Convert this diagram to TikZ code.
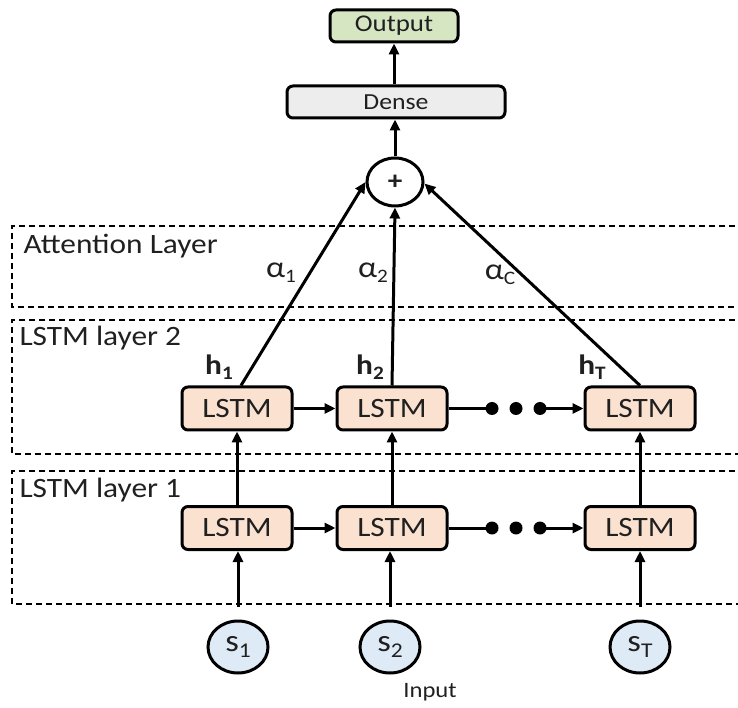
\documentclass[tikz,border=0pt]{standalone}
\usepackage{fontspec}
\setmainfont{Carlito}[FakeStretch=1.12]
\usetikzlibrary{arrows.meta,shapes.geometric}
\definecolor{lstmfill}{HTML}{FBE2D0}
\definecolor{infill}{HTML}{DEEAF6}
\definecolor{outfill}{HTML}{D6E6C3}
\definecolor{densefill}{HTML}{EDEDED}
\definecolor{txt}{HTML}{202020}
\newcommand{\fs}[1]{\fontsize{#1}{#1}\selectfont}
\newcommand{\lowsub}[3]{\raisebox{-#1}{\fs{#2}#3}}
\begin{document}
\begin{tikzpicture}[x=1pt,y=1pt,
  every node/.style={text=txt},
  lstmbox/.style={draw=black, line width=3pt, rounded corners=6pt, minimum width=110pt, minimum height=43pt, fill=lstmfill, font=\fs{28}, inner sep=0pt},
  topbox/.style={draw=black, line width=3pt, rounded corners=6pt, minimum height=32pt, inner sep=0pt},
  inp/.style={draw=black, ellipse, line width=3pt, minimum width=60pt, minimum height=52pt, fill=infill, inner sep=0pt, font=\fs{31}},
  arr/.style={line width=3pt, -{Triangle[length=11pt,width=10pt]}},
  plain/.style={line width=3pt},
  dashbox/.style={line width=1.5pt, dash pattern=on 6pt off 4pt},
  dotnode/.style={circle, fill=black, minimum size=13pt, inner sep=0pt},
  layerlbl/.style={anchor=west, font=\fs{28}},
  lbl/.style={font=\fs{30}, inner sep=0pt},
  hlbl/.style={font=\fs{28}\bfseries, inner sep=0pt}]
\useasboundingbox (0,0) rectangle (738,707);

% dashed layer boxes
\draw[dashbox] (745,481) -- (12,481) -- (12,400) -- (745,400);
\draw[dashbox] (745,387) -- (12,387) -- (12,253) -- (745,253);
\draw[dashbox] (745,236) -- (12,236) -- (12,103) -- (745,103);

\node[layerlbl] (latt) at (20,461) {Attention Layer};
\node[layerlbl] (l2lbl) at (16,369) {LSTM layer 2};
\node[layerlbl] (l1lbl) at (16,217) {LSTM layer 1};

% top
\node[topbox, fill=outfill, minimum width=128pt, font=\fs{24}] (o) at (394,681) {Output};
\node[topbox, fill=densefill, minimum width=218pt, font=\fs{23}] (d) at (396,605) {Dense};
\node[draw=black, ellipse, line width=3pt, minimum width=56pt, minimum height=48pt, fill=white, inner sep=0pt, font=\fs{26}\bfseries] (plus) at (395,525) {+};

% LSTM rows
\node[lstmbox] (b1) at (237,298.5) {LSTM};
\node[lstmbox] (b2) at (392,298.5) {LSTM};
\node[lstmbox] (b3) at (640,298.5) {LSTM};
\node[lstmbox] (a1) at (237,179) {LSTM};
\node[lstmbox] (a2) at (392,179) {LSTM};
\node[lstmbox] (a3) at (640,179) {LSTM};

% inputs
\node[inp] (s1) at (238,60) {s\lowsub{6pt}{21}{1}};
\node[inp] (s2) at (390,60) {s\lowsub{6pt}{21}{2}};
\node[inp] (s3) at (640,60) {s\lowsub{6pt}{21}{T}};
\node[font=\fs{22}] (input) at (430,15) {Input};

% dots
\node[dotnode] (p1) at (492,298.5) {};
\node[dotnode] (p2) at (516,298.5) {};
\node[dotnode] (p3) at (540,298.5) {};
\node[dotnode] (q1) at (492,179) {};
\node[dotnode] (q2) at (516,179) {};
\node[dotnode] (q3) at (540,179) {};

% connectors
\draw[arr] (d.north -| o.south) -- (o.south);
\draw[arr] (plus.north) -- (plus.north |- d.south);

\draw[arr, shorten <=13pt] (s1.north) -- (a1.south -| s1.north);
\draw[arr, shorten <=13pt] (s2.north) -- (a2.south -| s2.north);
\draw[arr, shorten <=13pt] (s3.north) -- (a3.south);
\draw[arr] (a1.north) -- (b1.south);
\draw[arr] (a2.north) -- (b2.south);
\draw[arr] (a3.north) -- (b3.south);

\draw[arr] (b1.east) -- (b2.west);
\draw[plain] (b2.east) -- (p1.center);
\draw[arr] (p3.center) -- (b3.west);
\draw[arr] (a1.east) -- (a2.west);
\draw[plain] (a2.east) -- (q1.center);
\draw[arr] (q3.center) -- (a3.west);

\coordinate (h1s) at ([xshift=4pt]b1.north);
\draw[arr] (h1s) -- (plus.west);
\draw[arr] (b2.north) -- (plus.south);
\draw[arr] (b3.north) -- (plus.-3);

% labels
\node[lbl] (al1) at (281,434) {α\lowsub{5pt}{19}{1}};
\node[lbl] (al2) at (373,434) {α\lowsub{5pt}{19}{2}};
\node[lbl] (alc) at (500,432) {α\lowsub{5pt}{19}{C}};
\node[hlbl] (h1) at (219,340) {h\lowsub{5pt}{19}{\bfseries 1}};
\node[hlbl] (h2) at (370,340) {h\lowsub{5pt}{19}{\bfseries 2}};
\node[hlbl] (hT) at (592,340) {h\lowsub{5pt}{19}{\bfseries T}};
\end{tikzpicture}
\end{document}
